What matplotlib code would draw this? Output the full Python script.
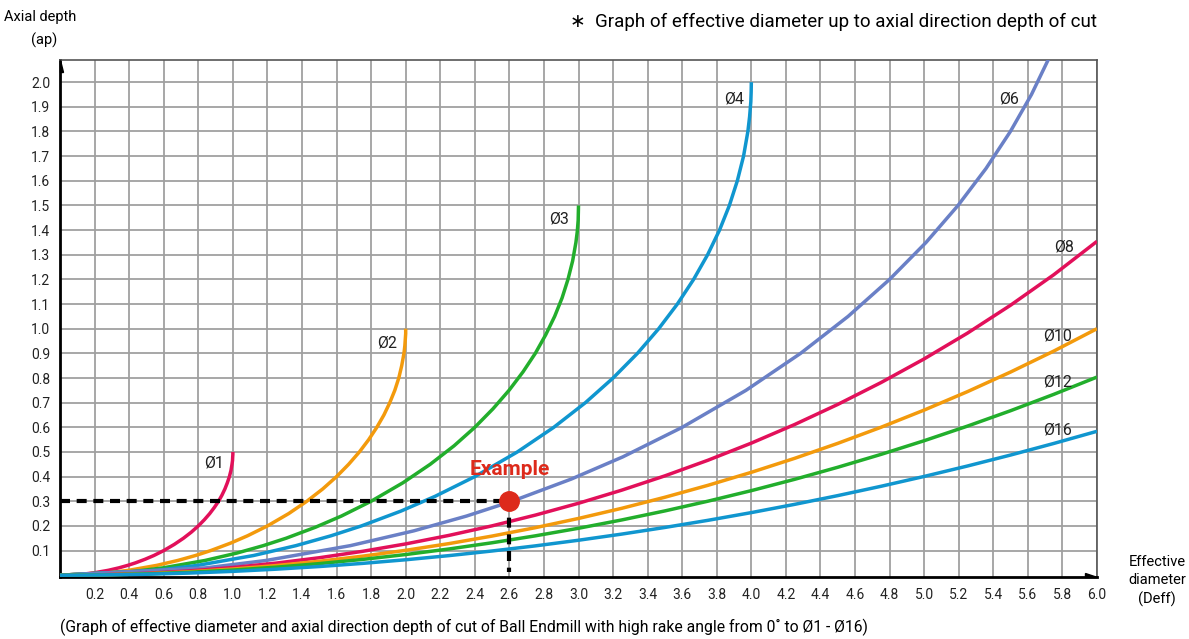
import numpy as np
import matplotlib
matplotlib.use("Agg")
import matplotlib.pyplot as plt
from matplotlib.patches import Polygon

plt.rcParams['font.family'] = ['Roboto', 'DejaVu Sans']

# 曲线数据 (Deff, ap)
d1_x = [0, 0.141, 0.199, 0.28, 0.341, 0.392, 0.436, 0.493, 0.543, 0.6, 0.661, 0.714, 0.76, 0.8,
        0.835, 0.866, 0.893, 0.917, 0.937, 0.954, 0.968, 0.98, 0.989, 0.995, 0.998, 0.999, 1.0, 1.0]
d1_y = [0, 0.005, 0.01, 0.02, 0.03, 0.04, 0.05, 0.065, 0.08, 0.1, 0.125, 0.15, 0.175, 0.2,
        0.225, 0.25, 0.275, 0.3, 0.325, 0.35, 0.375, 0.4, 0.425, 0.45, 0.465, 0.48, 0.49, 0.5]

d2_x = [0, 0.282, 0.398, 0.56, 0.682, 0.784, 0.872, 0.986, 1.085, 1.2, 1.323, 1.428, 1.52, 1.6,
        1.67, 1.732, 1.786, 1.833, 1.874, 1.908, 1.937, 1.96, 1.977, 1.99, 1.995, 1.998, 2.0, 2.0]
d2_y = [0, 0.01, 0.02, 0.04, 0.06, 0.08, 0.1, 0.13, 0.16, 0.2, 0.25, 0.3, 0.35, 0.4,
        0.45, 0.5, 0.55, 0.6, 0.65, 0.7, 0.75, 0.8, 0.85, 0.9, 0.93, 0.96, 0.98, 1.0]

d3_x = [0, 0.423, 0.597, 0.84, 1.024, 1.176, 1.308, 1.479, 1.628, 1.8, 1.984, 2.142, 2.28, 2.4,
        2.505, 2.598, 2.679, 2.75, 2.81, 2.862, 2.905, 2.939, 2.966, 2.985, 2.993, 2.998, 2.999, 3.0]
d3_y = [0, 0.015, 0.03, 0.06, 0.09, 0.12, 0.15, 0.195, 0.24, 0.3, 0.375, 0.45, 0.525, 0.6,
        0.675, 0.75, 0.825, 0.9, 0.975, 1.05, 1.125, 1.2, 1.275, 1.35, 1.395, 1.44, 1.47, 1.5]

d4_x = [0, 0.564, 0.796, 1.12, 1.365, 1.568, 1.744, 1.972, 2.17, 2.4, 2.646, 2.857, 3.04, 3.2,
        3.341, 3.464, 3.572, 3.666, 3.747, 3.816, 3.873, 3.919, 3.955, 3.98, 3.99, 3.997, 3.999, 4.0]
d4_y = [0, 0.02, 0.04, 0.08, 0.12, 0.16, 0.2, 0.26, 0.32, 0.4, 0.5, 0.6, 0.7, 0.8,
        0.9, 1.0, 1.1, 1.2, 1.3, 1.4, 1.5, 1.6, 1.7, 1.8, 1.86, 1.92, 1.96, 2.0]

d6_x = [0, 0.846, 1.194, 1.68, 2.047, 2.352, 2.615, 2.958, 3.256, 3.6, 3.969, 4.285, 4.56, 4.8,
        5.011, 5.196, 5.358, 5.499, 5.621, 5.724, 5.81]
d6_y = [0, 0.03, 0.06, 0.12, 0.18, 0.24, 0.3, 0.39, 0.48, 0.6, 0.75, 0.9, 1.05, 1.2,
        1.35, 1.5, 1.65, 1.8, 1.95, 2.1, 2.25]

dx = [0, 0.25, 0.5, 0.75, 1.0, 1.25, 1.5, 1.75, 2.0, 2.25, 2.5, 2.75, 3.0,
      3.25, 3.5, 3.75, 4.0, 4.25, 4.5, 4.75, 5.0, 5.25, 5.5, 5.75, 6.0]
d8_y = [0, 0.002, 0.0078, 0.0176, 0.0314, 0.0491, 0.0709, 0.0969, 0.127, 0.1615, 0.2003, 0.2438, 0.2919,
        0.345, 0.4031, 0.4667, 0.5359, 0.6111, 0.6928, 0.7814, 0.8775, 0.9818, 1.0953, 1.2189, 1.3543]
d10_y = [0, 0.0016, 0.0063, 0.0141, 0.0251, 0.0392, 0.0566, 0.0772, 0.101, 0.1282, 0.1588, 0.1928, 0.2303,
         0.2714, 0.3163, 0.3649, 0.4174, 0.474, 0.5349, 0.6001, 0.6699, 0.7445, 0.8242, 0.9092, 1.0]
d12_y = [0, 0.0013, 0.0052, 0.0117, 0.0209, 0.0326, 0.0471, 0.0641, 0.0839, 0.1064, 0.1317, 0.1597, 0.1905,
         0.2242, 0.2609, 0.3005, 0.3431, 0.3889, 0.4379, 0.4901, 0.5456, 0.6047, 0.6673, 0.7337, 0.8038]
d16_y = [0, 0.001, 0.0039, 0.0088, 0.0156, 0.0245, 0.0352, 0.048, 0.0627, 0.0795, 0.0983, 0.119, 0.1419,
         0.1668, 0.1938, 0.2228, 0.254, 0.2874, 0.3229, 0.3607, 0.4007, 0.4429, 0.4875, 0.5345, 0.5838]

red = '#e2105a'
orange = '#f39a0c'
green = '#22ae2c'
blue = '#1096cf'
slate = '#6a80c6'

curves = [
    (d1_x, d1_y, red, 'Ø1', 0.89, 0.455),
    (d2_x, d2_y, orange, 'Ø2', 1.89, 0.94),
    (d3_x, d3_y, green, 'Ø3', 2.89, 1.445),
    (d4_x, d4_y, blue, 'Ø4', 3.9, 1.93),
    (d6_x, d6_y, slate, 'Ø6', 5.49, 1.93),
    (dx, d8_y, red, 'Ø8', 5.81, 1.33),
    (dx, d10_y, orange, 'Ø10', 5.77, 0.97),
    (dx, d12_y, green, 'Ø12', 5.77, 0.785),
    (dx, d16_y, blue, 'Ø16', 5.77, 0.59),
]

ex_x, ex_y = 2.6, 0.3

fig = plt.figure(figsize=(11.89, 6.39), dpi=100)
ax = fig.add_axes([0.0505, 0.0975, 0.8721, 0.8086])

ax.set_xlim(0, 6.0)
ax.set_ylim(-0.006, 2.09)
ax.set_xticks(np.round(np.arange(0.2, 6.01, 0.2), 1))
ax.set_yticks(np.round(np.arange(0.1, 2.01, 0.1), 1))
ax.set_xticklabels(['%.1f' % v for v in np.arange(0.2, 6.01, 0.2)])
ax.set_yticklabels(['%.1f' % v for v in np.arange(0.1, 2.01, 0.1)])
ax.tick_params(length=0, labelsize=10, colors='#222222')
ax.tick_params(axis='x', pad=8)
ax.tick_params(axis='y', pad=7)
ax.grid(True, color='#a0a0a0', lw=1.3)
ax.set_axisbelow(True)

for s in ['top', 'right']:
    ax.spines[s].set_color('#555555')
    ax.spines[s].set_linewidth(1.2)
for s in ['left', 'bottom']:
    ax.spines[s].set_color('black')
    ax.spines[s].set_linewidth(2)

for x, y, c, lab, lx, ly in curves:
    ax.plot(x, y, color=c, lw=2.5, solid_capstyle='butt', solid_joinstyle='round', zorder=3)
    ax.text(lx, ly, lab, fontsize=11.5, color='#222222', ha='center', va='center')

# 示例
ax.plot([0, ex_x], [ex_y, ex_y], color='black', lw=3, dashes=(2.4, 1.6), zorder=4)
ax.plot([ex_x, ex_x], [ex_y, 0.015], color='black', lw=3, dashes=(2.4, 1.6), zorder=4)
ax.plot(ex_x, ex_y, 'o', color='#dd2a1b', markersize=14, zorder=5)
ax.text(ex_x, 0.427, 'Example', color='#dd2a1b', fontsize=15, fontweight='bold',
        ha='center', va='center')

# 坐标轴箭头
ax.add_patch(Polygon([(0, 1.0), (0, 0.977), (0.003, 0.977)], closed=True,
                     transform=ax.transAxes, color='black', clip_on=False, zorder=6))
ax.add_patch(Polygon([(1.0, 0), (0.988, 0), (0.988, 0.008)], closed=True,
                     transform=ax.transAxes, color='black', clip_on=False, zorder=6))

fig.text(40 / 1189, 1 - 17 / 639, 'Axial depth', fontsize=10.5, ha='center', va='center')
fig.text(44 / 1189, 1 - 40 / 639, '(ap)', fontsize=10.5, ha='center', va='center')
fig.text(1097 / 1189, 1 - 22 / 639, '∗  Graph of effective diameter up to axial direction depth of cut',
         fontsize=13.5, ha='right', va='center')
fig.text(1157 / 1189, 1 - 581 / 639, 'Effective\ndiameter\n(Deff)', fontsize=10.5,
         ha='center', va='center', linespacing=1.35)
fig.text(60 / 1189, 1 - 627 / 639,
         '(Graph of effective diameter and axial direction depth of cut of Ball Endmill with high rake angle from 0˚ to Ø1 - Ø16)',
         fontsize=11.3, ha='left', va='center')

fig.savefig('out.png', dpi=100)
